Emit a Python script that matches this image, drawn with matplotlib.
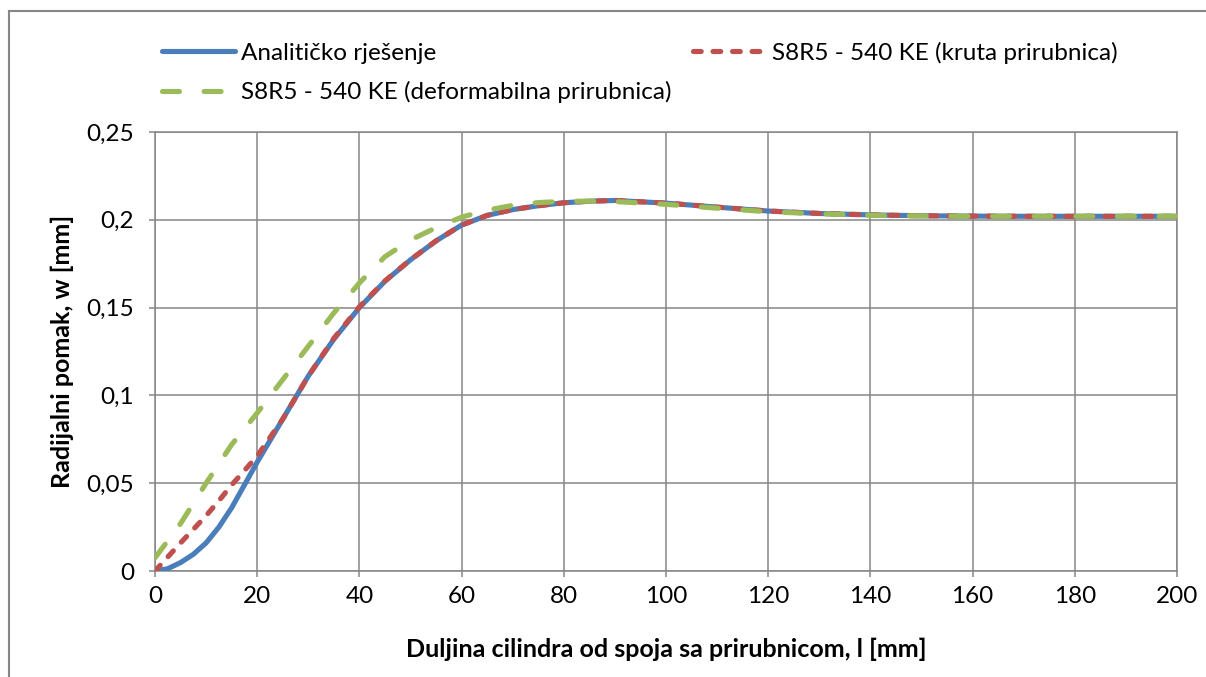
import matplotlib
matplotlib.use("Agg")
import matplotlib.pyplot as plt
from matplotlib.lines import Line2D

# ---- data ----
x_mm = [0, 2.5, 5, 7.5, 10, 12.5, 15, 17.5, 20, 25, 30, 35, 40, 45, 50, 55, 60, 65, 70,
        75, 80, 85, 90, 100, 110, 120, 130, 140, 150, 160, 170, 180, 190, 200]
w_analytic = [0.0, 0.0013, 0.0048, 0.0095, 0.0160, 0.0250, 0.0360, 0.0490, 0.0620,
              0.0865, 0.1110, 0.1320, 0.1500, 0.1650, 0.1772, 0.1880, 0.1970, 0.2025,
              0.2058, 0.2080, 0.2097, 0.2106, 0.2110, 0.2095, 0.2072, 0.2050, 0.2036,
              0.2028, 0.2023, 0.2021, 0.2020, 0.2020, 0.2020, 0.2020]
w_kruta = [0.0, 0.0080, 0.0160, 0.0237, 0.0315, 0.0400, 0.0490, 0.0572, 0.0655,
           0.0865, 0.1110, 0.1325, 0.1505, 0.1652, 0.1773, 0.1880, 0.1970, 0.2025,
           0.2058, 0.2080, 0.2097, 0.2106, 0.2110, 0.2095, 0.2072, 0.2050, 0.2036,
           0.2028, 0.2023, 0.2021, 0.2020, 0.2020, 0.2020, 0.2020]
w_deform = [0.0075, 0.0172, 0.0270, 0.0385, 0.0500, 0.0610, 0.0720, 0.0810, 0.0900,
            0.1090, 0.1280, 0.1470, 0.1640, 0.1790, 0.1885, 0.1955, 0.2015, 0.2055,
            0.2082, 0.2098, 0.2105, 0.2106, 0.2104, 0.2088, 0.2066, 0.2046, 0.2034,
            0.2026, 0.2022, 0.2020, 0.2020, 0.2020, 0.2020, 0.2020]

series_labels = ["Analitičko rješenje",
                 "S8R5 - 540 KE (kruta prirubnica)",
                 "S8R5 - 540 KE (deformabilna prirubnica)"]
xticks = [0, 20, 40, 60, 80, 100, 120, 140, 160, 180, 200]
yticks = [0, 0.05, 0.1, 0.15, 0.2, 0.25]
ytick_labels = ["0", "0,05", "0,1", "0,15", "0,2", "0,25"]
x_label = "Duljina cilindra od spoja sa prirubnicom, l [mm]"
y_label = "Radijalni pomak, w [mm]"

# ---- style ----
plt.rcParams['font.family'] = ['Lato', 'DejaVu Sans']
FS = 17.5
GRID = '#868686'
C_BLUE = '#4A7EBB'
C_RED = '#C0504D'
C_GREEN = '#9BBB59'

W, H = 1206, 677
fig = plt.figure(figsize=(W / 100, H / 100), dpi=100)
ax = fig.add_axes([155 / W, (H - 571) / H, (1177 - 155) / W, (571 - 132) / H])

lw = 3.7
l1, = ax.plot(x_mm, w_analytic, color=C_BLUE, lw=lw, solid_capstyle='round',
              solid_joinstyle='round', label=series_labels[0], zorder=3)
l2, = ax.plot(x_mm, w_kruta, color=C_RED, lw=lw, dashes=(1.5, 2.3),
              dash_capstyle='round', label=series_labels[1], zorder=4)
l3, = ax.plot(x_mm, w_deform, color=C_GREEN, lw=lw, dashes=(3.3, 4.8),
              dash_capstyle='round', label=series_labels[2], zorder=5)

ax.set_xlim(0, 200)
ax.set_ylim(0, 0.25)
ax.set_xticks(xticks)
ax.set_xticklabels([str(v) for v in xticks])
ax.set_yticks(yticks)
ax.set_yticklabels(ytick_labels)
ax.grid(True, color=GRID, lw=1.1)
ax.set_axisbelow(True)
for s in ax.spines.values():
    s.set_color(GRID)
    s.set_linewidth(1.1)
ax.tick_params(axis='both', direction='out', length=4, width=1.1, color=GRID,
               labelsize=FS, labelcolor='black')
ax.tick_params(axis='y', pad=11)
ax.tick_params(axis='x', pad=7)

ax.set_xlabel(x_label, fontsize=18, fontweight='bold', labelpad=22)
ax.set_ylabel(y_label, fontsize=18, fontweight='bold', labelpad=9)

leg = fig.legend(handles=[l1, l3, l2], ncol=2, loc='upper left',
                 bbox_to_anchor=(152 / W, 1 - 32 / H), frameon=False,
                 fontsize=FS, handlelength=3.0, handletextpad=0.25,
                 columnspacing=0.9, labelspacing=0.72, borderaxespad=0)

# outer chart border (left and top edges visible)
fig.add_artist(Line2D([8.5 / W, 8.5 / W], [0, 1 - 10.5 / H], color=GRID, lw=1.5,
                      transform=fig.transFigure))
fig.add_artist(Line2D([8.5 / W, 1], [1 - 10.5 / H, 1 - 10.5 / H], color=GRID, lw=1.5,
                      transform=fig.transFigure))

fig.savefig("out.png", dpi=100)
